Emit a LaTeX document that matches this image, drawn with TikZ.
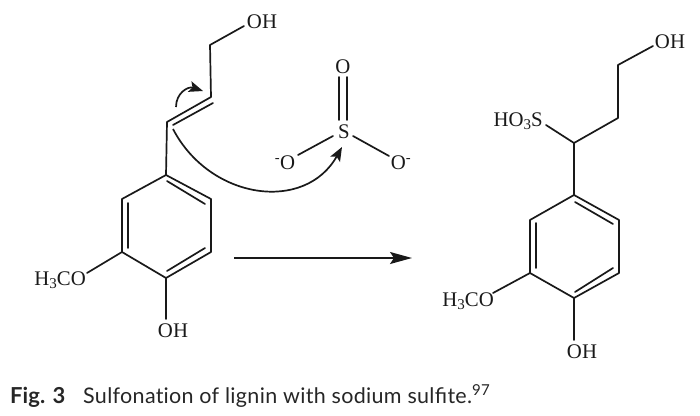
\documentclass[tikz,border=0pt]{standalone}
\usepackage{fontspec}
\setmainfont{Liberation Serif}
\newfontfamily\capfont[LetterSpace=1.5]{Lato}
\newfontfamily\figfont[LetterSpace=0.5,BoldFont={Lato Bold}]{Lato}
\newcommand{\subthree}{\raisebox{-3.5pt}{\fontsize{15}{15}\selectfont 3}}
\usetikzlibrary{arrows.meta}
\tikzset{
  bond/.style={line width=1.7pt,line cap=round,line join=round,draw=black!90},
  atom/.style={inner sep=0pt,font=\fontsize{20.8}{21}\selectfont,text=black!90},
  push/.style={line width=1.7pt,draw=black!90,-{Stealth[length=14pt,width=11pt,inset=3pt]}},
  rxn/.style={line width=1.7pt,draw=black!90,-{Stealth[length=22pt,width=12pt,inset=4pt]}},
  captext/.style={inner sep=0pt,anchor=base west,font=\capfont\fontsize{21.5}{22}\selectfont,text=black!85},
  figtext/.style={inner sep=0pt,anchor=base west,font=\figfont\fontsize{22}{22}\selectfont\bfseries,text=black!85}
}
\begin{document}
\begin{tikzpicture}[x=1pt,y=-1pt]
\useasboundingbox (0,0) rectangle (700,415);
% left molecule atoms
\foreach \n/\p in {a/{244,26},b/{210,45},c/{211,97},d/{167,122},e/{166,175},f/{211,199},g/{211,252},h/{166,278},i/{122,252},j/{122,199},
  ci/{213,103},di/{173,125},e1/{167,181},f1/{205,204},g1/{205,248},h1/{167,271},i1/{128,248},j1/{128,203},
  mo/{87,273},oe/{166,319},
  sa/{339,77},sb/{339,120},sc/{347,77},sd/{347,120},se/{298,155},sf/{333,136},sg/{353,136},sh/{389,156},
  ps/{173,129},pe/{342,147},qs/{176,107},qe/{203,91},ra/{234,258},rb/{412,258},
  % right molecule atoms
  ra1/{653,46},rb1/{618,65},rc/{618,118},rd/{574,143},rs/{546,125},re/{574,195},rf/{619,220},rg/{619,273},rh/{574,298},ri/{530,273},rj/{530,220},
  re1/{575,202},rf1/{613,224},rg1/{613,268},rh1/{575,292},ri1/{536,268},rj1/{536,223},rmo/{493,293},roe/{574,340}}
  {\coordinate (\n) at (\p);}
% left labels
\node[atom] (oh1) at (262,22) {OH};
\node[atom,anchor=east] (meo1) at (86,280) {H\subthree CO};
\node[atom] (oh2) at (173,331) {OH};
\node[atom] (o1) at (343,67) {O};
\node[atom] (s1) at (344,132) {S};
\node[atom] (o2) at (285,163) {\textsuperscript{-}O};
\node[atom] (o3) at (401,163) {O\textsuperscript{-}};
% right labels
\node[atom] (oh3) at (670,42) {OH};
\node[atom,anchor=east] (so3) at (543,121) {HO\subthree S};
\node[atom,anchor=east] (meo2) at (494,301) {H\subthree CO};
\node[atom] (oh4) at (582,352) {OH};
% left bonds
\draw[bond] (a)--(b)--(c)--(d)--(e)--(f)--(g)--(h)--(i)--(j)--(e);
\draw[bond] (ci)--(di) (e1)--(f1) (g1)--(h1) (i1)--(j1) (i)--(mo) (h)--(oe);
\draw[bond] (sa)--(sb) (sc)--(sd) (se)--(sf) (sg)--(sh);
% right bonds
\draw[bond] (ra1)--(rb1)--(rc)--(rd)--(re)--(rf)--(rg)--(rh)--(ri)--(rj)--(re);
\draw[bond] (rd)--(rs) (re1)--(rf1) (rg1)--(rh1) (ri1)--(rj1) (ri)--(rmo) (rh)--(roe);
% arrows
\draw[push] (ps) .. controls (210,200) and (305,213) .. (pe);
\draw[push] (qs) .. controls (176,93) and (188,86) .. (qe);
\draw[rxn] (ra)--(rb);
% caption
\node[figtext] (fig) at (10,403) {Fig. 3};
\node[captext] (txt) at (83,403) {Sulfonat\kern0pt ion of lignin with sodium sulfite.\textsuperscript{97}};
\end{tikzpicture}
\end{document}
